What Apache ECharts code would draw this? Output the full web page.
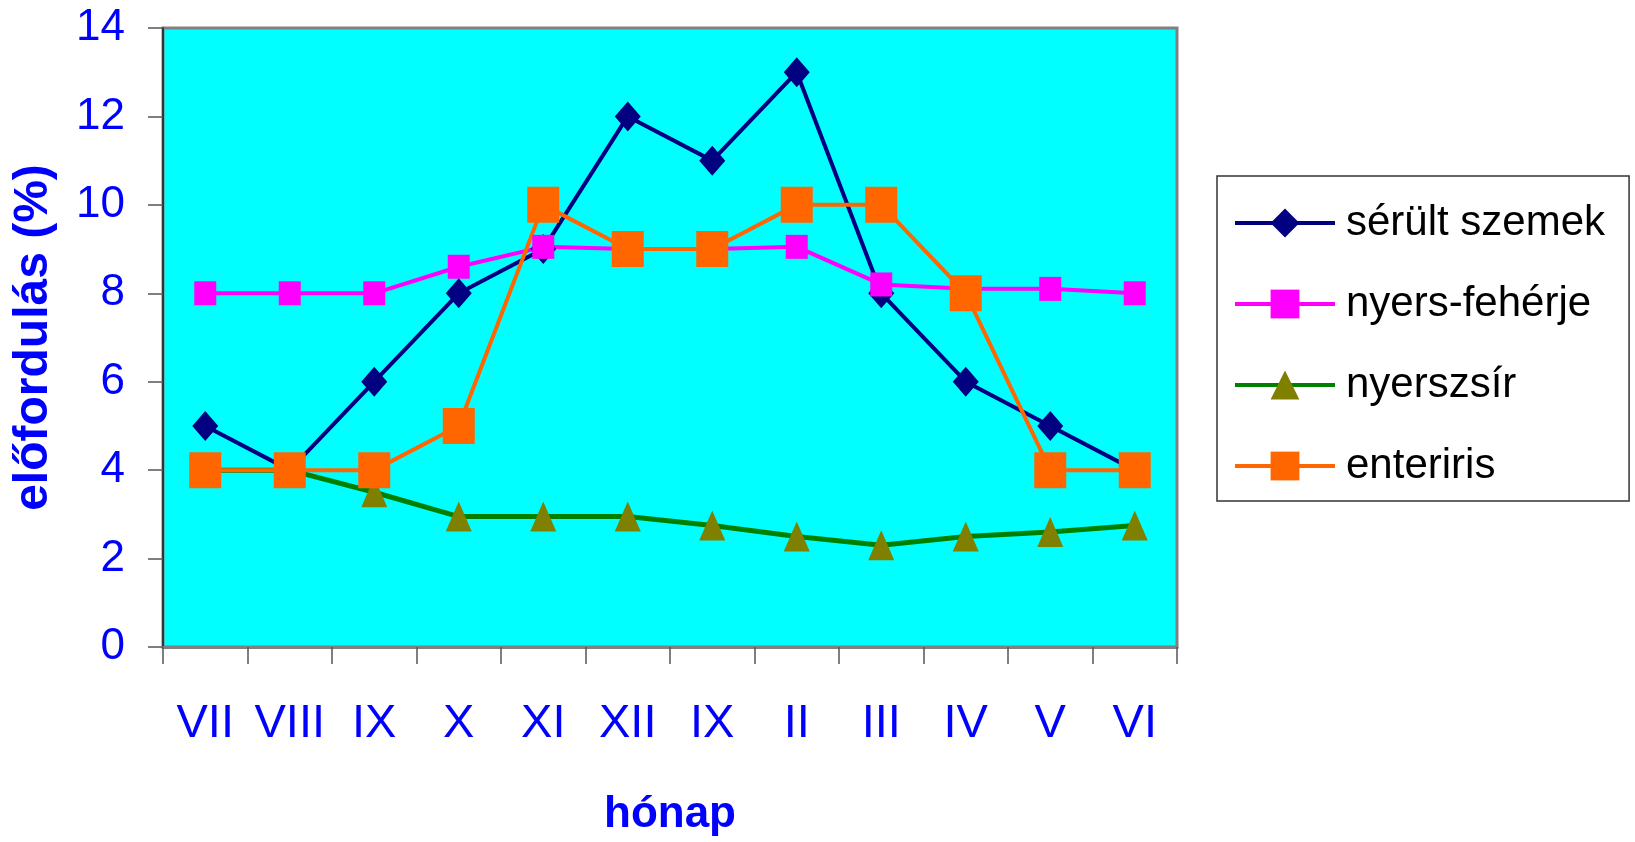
<!DOCTYPE html>
<html>
<head>
<meta charset="utf-8">
<title>előfordulás</title>
<script src="https://cdn.jsdelivr.net/npm/echarts@6/dist/echarts.min.js"></script>
<style>
  html, body { margin: 0; padding: 0; background: #ffffff; }
  #chart { width: 1635px; height: 842px; }
</style>
</head>
<body>
<div id="chart"></div>
<script>
// Months (Roman numerals) along the x axis
const months = ['VII', 'VIII', 'IX', 'X', 'XI', 'XII', 'IX', 'II', 'III', 'IV', 'V', 'VI'];

// Occurrence (%) per month for each defect
const serultSzemek = [5, 4, 6, 8, 9, 12, 11, 13, 8, 6, 5, 4];
const nyersFeherje = [8, 8, 8, 8.6, 9.05, 9, 9, 9.05, 8.2, 8.1, 8.1, 8];
const nyersZsir = [4, 4, 3.5, 2.95, 2.95, 2.95, 2.75, 2.5, 2.3, 2.5, 2.6, 2.75];
const enteriris = [4, 4, 4, 5, 10, 9, 9, 10, 10, 8, 4, 4];

const yTicks = { min: 0, max: 14, interval: 2 };

const regular = "'Liberation Sans', Arial, sans-serif";
const blue = '#0000FF';

const chart = echarts.init(document.getElementById('chart'), null, { renderer: 'canvas' });

function lineSeries(name, data, symbol, size, markColor, lineColor, width) {
  return {
    name: name,
    type: 'line',
    data: data,
    symbol: symbol,
    symbolSize: size,
    showAllSymbol: true,
    itemStyle: { color: markColor },
    lineStyle: { color: lineColor, width: width },
    emphasis: { disabled: true },
    z: 3
  };
}

chart.setOption({
  animation: false,
  backgroundColor: '#ffffff',
  grid: {
    left: 163, top: 28, right: 458, bottom: 194,
    show: true,
    backgroundColor: '#00FFFF',
    borderColor: '#808080',
    borderWidth: 3
  },
  legend: {
    orient: 'vertical',
    left: 1217,
    top: 176,
    padding: [26, 24, 14, 16],
    itemWidth: 100,
    itemHeight: 36,
    itemGap: 39,
    borderColor: '#333333',
    borderWidth: 1.5,
    backgroundColor: '#ffffff',
    selectedMode: false,
    lineStyle: { width: 4 },
    textStyle: { fontFamily: regular, fontSize: 42, color: '#000000', padding: [0, 0, 0, 6] },
    data: ['sérült szemek', 'nyers-fehérje', 'nyerszsír', 'enteriris']
  },
  xAxis: {
    type: 'category',
    data: months,
    boundaryGap: true,
    name: 'hónap',
    nameLocation: 'middle',
    nameGap: 146,
    nameTextStyle: { fontFamily: regular, fontWeight: 'bold', fontSize: 44, color: blue, lineHeight: 44 },
    axisLine: { show: true, lineStyle: { color: '#808080', width: 3 } },
    axisTick: { show: true, interval: 0, inside: false, length: 17, lineStyle: { color: '#555555', width: 1.5 } },
    axisLabel: { interval: 0, fontFamily: regular, fontSize: 47, color: blue, margin: 54, lineHeight: 47 },
    splitLine: { show: false }
  },
  yAxis: {
    type: 'value',
    min: yTicks.min,
    max: yTicks.max,
    interval: yTicks.interval,
    name: 'előfordulás (%)',
    nameLocation: 'middle',
    nameGap: 105,
    nameRotate: 90,
    nameTextStyle: { fontFamily: regular, fontWeight: 'bold', fontSize: 48, color: blue, lineHeight: 48 },
    axisLine: { show: true, lineStyle: { color: '#333333', width: 2 } },
    axisTick: { show: true, inside: false, length: 15, lineStyle: { color: '#555555', width: 1.5 } },
    axisLabel: { fontFamily: regular, fontSize: 44, color: blue, margin: 38 },
    splitLine: { show: false }
  },
  series: [
    lineSeries('sérült szemek', serultSzemek, 'diamond', [26, 30], '#000080', '#000080', 4),
    lineSeries('nyers-fehérje', nyersFeherje, 'rect', [22, 24], '#FF00FF', '#FF00FF', 4),
    lineSeries('nyerszsír', nyersZsir, 'triangle', [26, 30], '#808000', '#008000', 5),
    lineSeries('enteriris', enteriris, 'rect', [32, 36], '#FF6600', '#FF6600', 4)
  ]
});
</script>
</body>
</html>
